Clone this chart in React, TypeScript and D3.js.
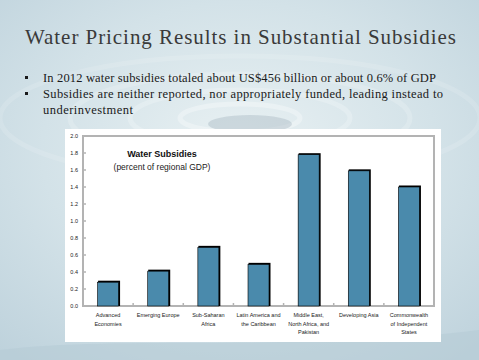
import { useEffect, useRef } from "react";
import * as d3 from "d3";

const categories = [
  ["Advanced", "Economies"],
  ["Emerging Europe"],
  ["Sub-Saharan", "Africa"],
  ["Latin America and", "the Caribbean"],
  ["Middle East,", "North Africa, and", "Pakistan"],
  ["Developing Asia"],
  ["Commonwealth", "of Independent", "States"],
];
const values = [0.28, 0.41, 0.69, 0.49, 1.78, 1.59, 1.4];
const yTicks = [0, 0.2, 0.4, 0.6, 0.8, 1.0, 1.2, 1.4, 1.6, 1.8, 2.0];

const slideTitle = "Water Pricing Results in Substantial Subsidies";
const bullets = [
  ["In 2012 water subsidies totaled about US$456 billion or about 0.6% of GDP"],
  ["Subsidies are neither reported, nor appropriately funded, leading instead to", "underinvestment"],
];
// widths of the bullet lines as seen on the slide
const bulletWidths = [[393], [400, 90]];

const W = 479;
const H = 360;

export default function App() {
  const ref = useRef(null);

  useEffect(() => {
    document.body.style.margin = "0";
    const svg = d3.select(ref.current);
    svg.selectAll("*").remove();

    // background
    const defs = svg.append("defs");
    const bg = defs
      .append("radialGradient")
      .attr("id", "bg")
      .attr("cx", "0.5")
      .attr("cy", "0.42")
      .attr("r", "0.75");
    bg.append("stop").attr("offset", "0%").attr("stop-color", "#e9f1f3");
    bg.append("stop").attr("offset", "55%").attr("stop-color", "#d3e2e8");
    bg.append("stop").attr("offset", "100%").attr("stop-color", "#bed2dc");
    svg.append("rect").attr("width", W).attr("height", H).attr("fill", "url(#bg)");

    // water ripples
    const ripples = [
      { rx: 60, ry: 14, o: 0.3 },
      { rx: 110, ry: 28, o: 0.22 },
      { rx: 170, ry: 44, o: 0.18 },
      { rx: 240, ry: 62, o: 0.13 },
    ];
    svg
      .append("g")
      .selectAll("ellipse")
      .data(ripples)
      .join("ellipse")
      .attr("cx", 240)
      .attr("cy", 118)
      .attr("rx", (d) => d.rx)
      .attr("ry", (d) => d.ry)
      .attr("fill", "none")
      .attr("stroke", "#ffffff")
      .attr("stroke-width", 5)
      .attr("opacity", (d) => d.o);
    svg
      .append("ellipse")
      .attr("cx", 250)
      .attr("cy", 124)
      .attr("rx", 42)
      .attr("ry", 9)
      .attr("fill", "#9aadb6")
      .attr("opacity", 0.35);
    svg
      .append("path")
      .attr("d", "M0,350 C120,335 300,352 479,330 L479,360 L0,360 Z")
      .attr("fill", "#b5cbd6")
      .attr("opacity", 0.6);

    // slide title
    svg
      .append("text")
      .attr("x", 25)
      .attr("y", 44)
      .attr("textLength", 431)
      .attr("lengthAdjust", "spacing")
      .style("font-family", "'Liberation Serif', 'Times New Roman', serif")
      .style("font-size", "21px")
      .style("fill", "#3a3a3a")
      .text(slideTitle);

    // bullets
    const bulletG = svg
      .append("g")
      .style("font-family", "'Liberation Serif', 'Times New Roman', serif")
      .style("font-size", "12.5px")
      .style("fill", "#1a1a1a");
    let by = 82;
    bullets.forEach((lines, bi) => {
      bulletG.append("rect").attr("x", 25).attr("y", by - 6).attr("width", 3).attr("height", 3).attr("fill", "#1a1a1a");
      lines.forEach((l, li) => {
        bulletG
          .append("text")
          .attr("x", 43)
          .attr("y", by)
          .attr("textLength", bulletWidths[bi][li])
          .attr("lengthAdjust", "spacing")
          .text(l);
        by += 16;
      });
    });

    // chart panel
    svg.append("rect").attr("x", 65).attr("y", 129).attr("width", 376).attr("height", 213).attr("fill", "#ffffff");

    const left = 83;
    const right = 434;
    const top = 136;
    const bottom = 306;

    const x = d3.scaleBand().domain(d3.range(categories.length)).range([left, right]).paddingInner(0).paddingOuter(0);
    const y = d3.scaleLinear().domain([0, 2]).range([bottom, top]);

    const bw = 21;

    // frame
    svg
      .append("rect")
      .attr("x", left)
      .attr("y", top)
      .attr("width", right - left)
      .attr("height", bottom - top)
      .attr("fill", "none")
      .attr("stroke", "#b3b3b3")
      .attr("stroke-width", 2);

    // y ticks
    const yAxis = svg.append("g").attr("transform", `translate(${left},0)`);
    yAxis
      .selectAll("line")
      .data(yTicks)
      .join("line")
      .attr("x1", 0)
      .attr("x2", 3)
      .attr("y1", (d) => y(d))
      .attr("y2", (d) => y(d))
      .attr("stroke", "#b3b3b3")
      .attr("stroke-width", 1.5);
    yAxis
      .selectAll("text")
      .data(yTicks)
      .join("text")
      .attr("x", -5)
      .attr("y", (d) => y(d) + 2)
      .attr("text-anchor", "end")
      .style("font-family", "Arial, 'Liberation Sans', sans-serif")
      .style("font-size", "5.5px")
      .style("fill", "#222")
      .text((d) => d3.format(".1f")(d));

    // x ticks between categories
    svg
      .append("g")
      .selectAll("line")
      .data(d3.range(1, categories.length))
      .join("line")
      .attr("x1", (i) => x(i))
      .attr("x2", (i) => x(i))
      .attr("y1", bottom)
      .attr("y2", bottom - 3)
      .attr("stroke", "#b3b3b3")
      .attr("stroke-width", 1.5);

    // bars: black shadow + blue fill
    const barsG = svg.append("g");
    const cx = (i) => x(i) + x.bandwidth() / 2;
    barsG
      .selectAll("rect.shadow")
      .data(values)
      .join("rect")
      .attr("class", "shadow")
      .attr("x", (d, i) => cx(i) - bw / 2 + 0.5)
      .attr("y", (d) => y(d) - 1.5)
      .attr("width", bw + 1)
      .attr("height", (d) => bottom - y(d) + 1.5)
      .attr("fill", "#000");
    barsG
      .selectAll("rect.bar")
      .data(values)
      .join("rect")
      .attr("class", "bar")
      .attr("x", (d, i) => cx(i) - bw / 2)
      .attr("y", (d) => y(d))
      .attr("width", bw)
      .attr("height", (d) => bottom - y(d))
      .attr("fill", "#4a8aac")
      .attr("stroke", "#000")
      .attr("stroke-width", 0.6);

    // x labels
    const xl = svg
      .append("g")
      .style("font-family", "Arial, 'Liberation Sans', sans-serif")
      .style("font-size", "5.5px")
      .style("fill", "#222")
      .attr("text-anchor", "middle");
    categories.forEach((lines, i) => {
      lines.forEach((l, j) => {
        xl.append("text").attr("x", cx(i)).attr("y", 317 + j * 8.5).text(l);
      });
    });

    // chart title
    svg
      .append("text")
      .attr("x", 162)
      .attr("y", 157)
      .attr("text-anchor", "middle")
      .style("font-family", "Arial, 'Liberation Sans', sans-serif")
      .style("font-size", "9px")
      .style("font-weight", "bold")
      .style("fill", "#111")
      .text("Water Subsidies");
    svg
      .append("text")
      .attr("x", 162)
      .attr("y", 170)
      .attr("text-anchor", "middle")
      .style("font-family", "Arial, 'Liberation Sans', sans-serif")
      .style("font-size", "8.5px")
      .style("fill", "#222")
      .text("(percent of regional GDP)");
  }, []);

  return <svg ref={ref} width={W} height={H} style={{ display: "block" }} />;
}
